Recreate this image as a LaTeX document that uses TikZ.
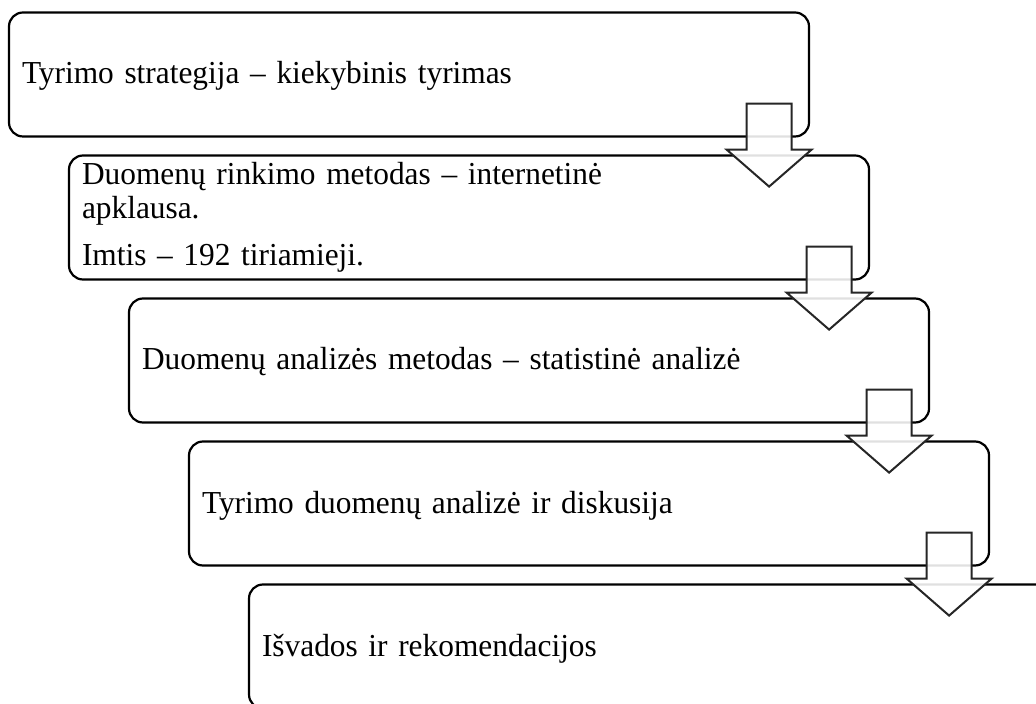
\documentclass[tikz,border=0pt]{standalone}
\usepackage{fontspec}
\setmainfont{Liberation Serif}[FakeStretch=0.98]
\usetikzlibrary{calc}

\tikzset{stagebox/.style={draw=black,line width=1.1pt,rounded corners=7pt,minimum width=400pt,minimum height=62pt,
  inner xsep=6.5pt,text width=387pt,align=left,font=\fontsize{16}{17}\selectfont},
  oneline/.style={text height=13pt,text depth=3.5pt},
  blockarrow/.style={draw=black!85,line width=1pt,fill=white,fill opacity=0.88,line join=miter}}

\begin{document}
\begin{tikzpicture}[x=0.5pt,y=-0.5pt]
\useasboundingbox (0,0) rectangle (1036,704);
\clip (0,0) rectangle (1036,704);
\node[stagebox,oneline] (b1) at (409,74.5) {Tyrimo strategija -- kiekybinis tyrimas};
\node[stagebox] (b2) at (469,217.5) {Duomenų rinkimo metodas -- internetinė\\ apklausa.\\[6.5pt] Imtis -- 192 tiriamieji.};
\node[stagebox,oneline] (b3) at (529,360.5) {Duomenų analizės metodas -- statistinė analizė};
\node[stagebox,oneline] (b4) at (589,503.5) {Tyrimo duomenų analizė ir diskusija};
\node[stagebox,oneline] (b5) at (649,646.5) {Išvados ir rekomendacijos};
% hollow arrows between the stages
\foreach \a/\b in {b1/b2,b2/b3,b3/b4,b4/b5}
  \draw[blockarrow] ($(\a.south east)+(-63.5,-34)$) -- ++(45,0) -- ++(0,46) -- ++(20,0)
    -- ++(-42.5,37) -- ++(-42.5,-37) -- ++(20,0) -- cycle;
\end{tikzpicture}
\end{document}
